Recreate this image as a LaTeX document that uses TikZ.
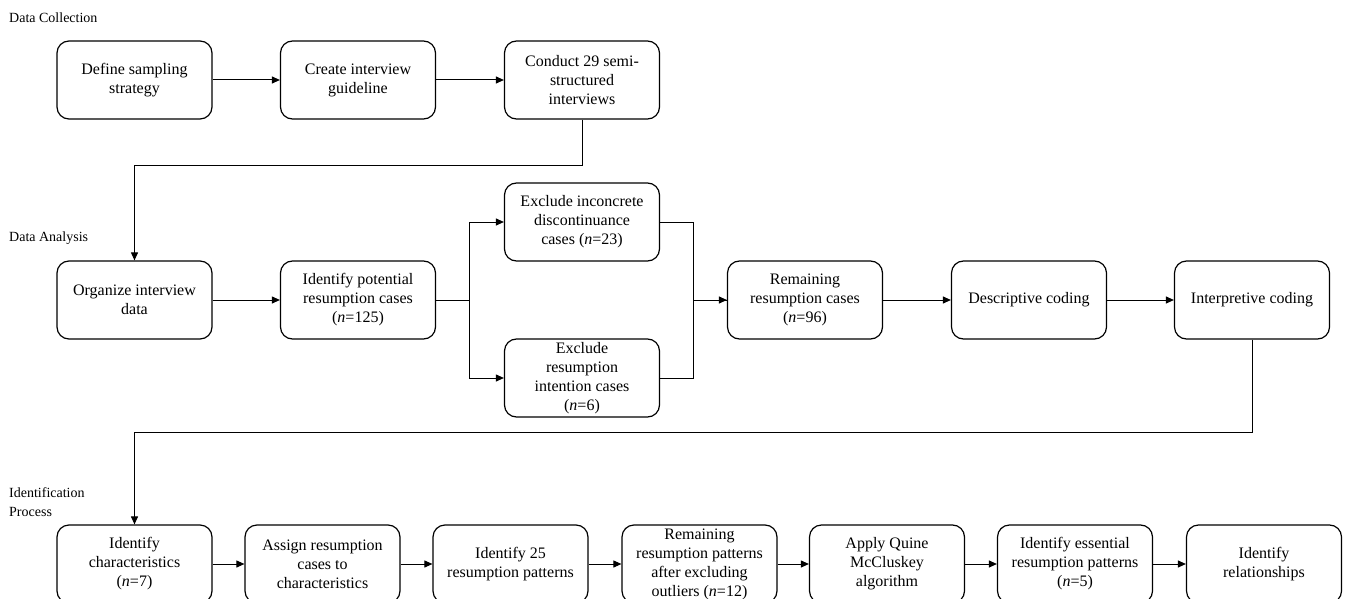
\documentclass[tikz,border=0pt]{standalone}
\usepackage{fontspec}
\setmainfont{Liberation Serif}
\usetikzlibrary{arrows.meta}
\begin{document}
\begin{tikzpicture}[x=1pt,y=-1pt,
  box/.style={draw,line width=1.2pt,rounded corners=12pt,minimum width=155pt,minimum height=78pt,align=center,font=\fontsize{16}{19}\selectfont,inner sep=0pt},
  conn/.style={line width=1pt,-{Triangle[length=8pt,width=7pt]}},
  plain/.style={line width=1pt},
  lab/.style={anchor=west,font=\fontsize{14}{18.5}\selectfont,align=left,inner sep=0pt}]
\useasboundingbox (0,0) rectangle (1349,599);
\begin{scope}
\clip (0,0) rectangle (1349,599);
% labels
\node[lab] (lDC) at (9,18) {Data Collection};
\node[lab] (lDA) at (9,238) {Data Analysis};
\node[lab] (lIP) at (9,502) {Identification\\Process};
% row 1
\node[box] (b1) at (134.5,80) {Define sampling\\strategy};
\node[box] (b2) at (358,80) {Create interview\\guideline};
\node[box] (b3) at (582,80) {Conduct 29 semi-\\structured\\interviews};
% row 2
\node[box] (b4) at (134.5,300) {Organize interview\\data};
\node[box] (b5) at (358,300) {Identify potential\\resumption cases\\(\textit{n}=125)};
\node[box] (b6) at (582,222) {Exclude inconcrete\\discontinuance\\cases (\textit{n}=23)};
\node[box] (b7) at (582,378) {Exclude\\resumption\\intention cases\\(\textit{n}=6)};
\node[box] (b8) at (805,300) {Remaining\\resumption cases\\(\textit{n}=96)};
\node[box] (b9) at (1029,300) {Descriptive coding};
\node[box] (b10) at (1252,300) {Interpretive coding};
% row 3
\node[box] (r1) at (134.5,564) {Identify\\characteristics\\(\textit{n}=7)};
\node[box] (r2) at (322.5,564) {Assign resumption\\cases to\\characteristics};
\node[box] (r3) at (510.5,564) {Identify 25\\resumption patterns};
\node[box] (r4) at (699.5,564) {Remaining\\resumption patterns\\after excluding\\outliers (\textit{n}=12)};
\node[box] (r5) at (887,564) {Apply Quine\\McCluskey\\algorithm};
\node[box] (r6) at (1075,564) {Identify essential\\resumption patterns\\(\textit{n}=5)};
\node[box] (r7) at (1264,564) {Identify\\relationships};
% connectors row 1
\draw[conn] (b1) -- (b2);
\draw[conn] (b2) -- (b3);
\draw[conn] (b3.south) -- ++(0,46) -| (b4.north);
% row 2
\draw[conn] (b4) -- (b5);
\draw[conn] (b5.east) -- ++(33,0) |- (b6.west);
\draw[conn] (b5.east) ++(33,0) |- (b7.west);
\draw[conn] (b6.east) -- ++(33,0) |- (b8.west);
\draw[plain] (b7.east) -- ++(33,0) |- (b8.west);
\draw[conn] (b8) -- (b9);
\draw[conn] (b9) -- (b10);
\draw[conn] (b10.south) -- ++(0,93) -| (r1.north);
% row 3
\draw[conn] (r1) -- (r2);
\draw[conn] (r2) -- (r3);
\draw[conn] (r3) -- (r4);
\draw[conn] (r4) -- (r5);
\draw[conn] (r5) -- (r6);
\draw[conn] (r6) -- (r7);
\end{scope}
\end{tikzpicture}
\end{document}
